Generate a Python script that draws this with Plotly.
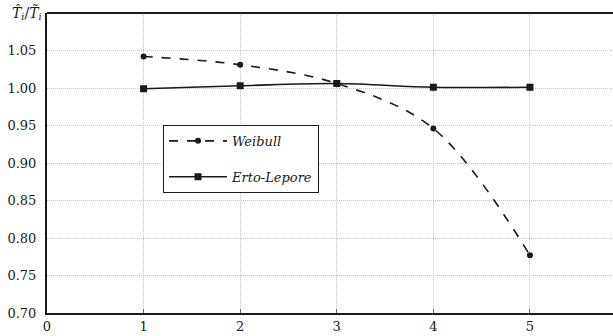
import plotly.graph_objects as go

# Ratio of estimated to true values for each index i
idx = [1, 2, 3, 4, 5]
weibull = [1.042, 1.031, 1.006, 0.946, 0.777]
erto_lepore = [0.999, 1.003, 1.006, 1.001, 1.001]

x_ticks = [0, 1, 2, 3, 4, 5]
y_ticks = [0.70, 0.75, 0.80, 0.85, 0.90, 0.95, 1.00, 1.05]
y_ticklabels = [f"{v:.2f}" for v in y_ticks]

serif = "DejaVu Serif"
ink = "#1a1a1a"

fig = go.Figure()
fig.add_trace(go.Scatter(
    x=idx, y=weibull, name="<i>Weibull</i>", mode="lines+markers",
    legendgroup="weibull",
    line=dict(color=ink, width=1.6, dash="dash", shape="spline"),
    marker=dict(symbol="circle", size=6, color=ink),
))
fig.add_trace(go.Scatter(
    x=idx, y=erto_lepore, name="<i>Erto-Lepore</i>", mode="lines+markers",
    legendgroup="erto",
    line=dict(color=ink, width=1.6, shape="spline"),
    marker=dict(symbol="square", size=7, color=ink),
))

grid = dict(showgrid=True, gridcolor="#c4c4c4", gridwidth=1, griddash="1px,1px")

fig.update_layout(
    width=613, height=336,
    margin=dict(l=47, r=0, t=13, b=23),
    paper_bgcolor="white", plot_bgcolor="white",
    font=dict(family=serif, size=13, color=ink),
    xaxis=dict(
        range=[0, 5.86], tickvals=x_ticks, ticktext=[str(v) for v in x_ticks],
        showline=True, linecolor=ink, linewidth=2, zeroline=False,
        ticks="inside", ticklen=4, tickcolor="#666",
        tickfont=dict(family=serif, size=13, color=ink), **grid,
    ),
    yaxis=dict(
        range=[0.70, 1.10], tickvals=y_ticks, ticktext=y_ticklabels,
        showline=True, linecolor=ink, linewidth=2, zeroline=False,
        ticks="", ticklabelstandoff=6,
        tickfont=dict(family=serif, size=13, color=ink), **grid,
    ),
    legend=dict(
        x=0.205, y=0.627, xanchor="left", yanchor="top",
        bgcolor="white", bordercolor=ink, borderwidth=1,
        font=dict(family=serif, size=13, color=ink),
        itemwidth=58, tracegroupgap=16, traceorder="grouped",
    ),
    showlegend=True,
)

# Top frame line (the plot runs off the right edge, so no right border)
fig.add_shape(type="line", xref="paper", yref="paper", x0=0, x1=1, y0=1, y1=1,
              line=dict(color=ink, width=2))

# Axis titles
fig.add_annotation(
    text="<i>T\u0302<sub>i</sub></i>/<i>T\u0303<sub>i</sub></i>",
    xref="paper", yref="paper", x=-0.005, y=1.0, xanchor="right", yanchor="middle",
    showarrow=False, font=dict(family=serif, size=14, color=ink),
)
fig.add_annotation(
    text="<i>i</i>", xref="paper", yref="paper", x=1.0, y=0, yshift=-14,
    xanchor="left", yanchor="middle", showarrow=False,
    font=dict(family=serif, size=13, color=ink),
)

fig.write_html("out.html")
